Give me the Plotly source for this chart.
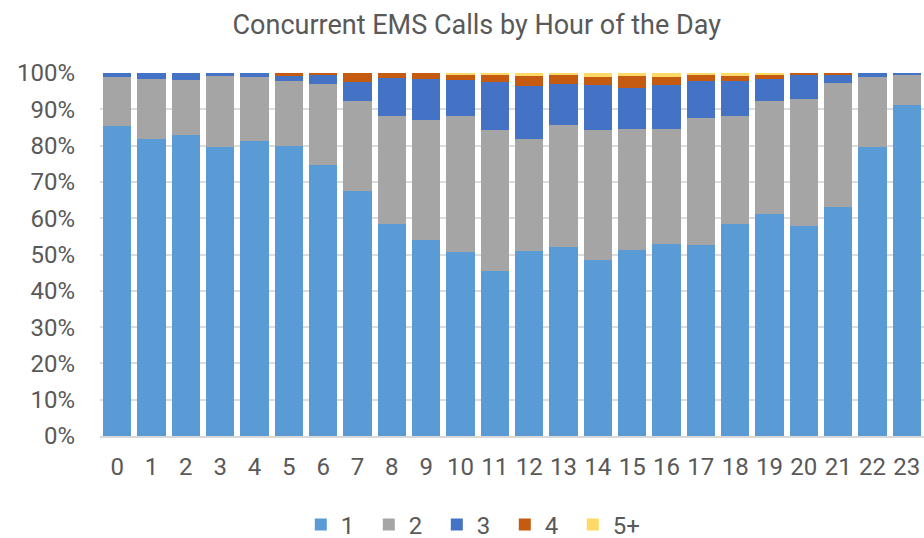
import plotly.graph_objects as go

hours = [str(h) for h in range(24)]
s1 = [85.4, 81.8, 82.9, 79.6, 81.3, 79.9, 74.7, 67.5, 58.4, 54.0, 50.7, 45.5,
      51.0, 52.1, 48.5, 51.2, 52.9, 52.6, 58.4, 61.2, 57.9, 63.1, 79.6, 91.2]
s2 = [13.5, 16.5, 15.2, 19.6, 17.6, 17.9, 22.3, 24.9, 29.8, 33.1, 37.5, 38.8,
      30.8, 33.6, 35.8, 33.4, 31.7, 35.0, 29.8, 31.1, 34.9, 34.1, 19.3, 8.2]
s3 = [1.1, 1.7, 1.9, 0.8, 1.1, 1.4, 2.5, 5.1, 10.4, 11.2, 9.9, 13.2,
      14.6, 11.3, 12.4, 11.3, 12.1, 10.2, 9.6, 6.0, 6.6, 2.4, 1.1, 0.6]
s4 = [0, 0, 0, 0, 0, 0.8, 0.5, 2.5, 1.4, 1.7, 1.3, 1.9,
      2.8, 2.4, 2.2, 3.3, 2.2, 1.6, 1.4, 1.1, 0.6, 0.4, 0, 0]
s5 = [0, 0, 0, 0, 0, 0, 0, 0, 0, 0, 0.6, 0.6,
      0.8, 0.6, 1.1, 0.8, 1.1, 0.6, 0.8, 0.6, 0, 0, 0, 0]

series = [("1", s1, "#5B9BD5"), ("2", s2, "#A5A5A5"), ("3", s3, "#4472C4"),
          ("4", s4, "#C55A11"), ("5+", s5, "#FFD966")]

fig = go.Figure()
for name, vals, col in series:
    fig.add_trace(go.Bar(x=hours, y=vals, name=name, marker_color=col,
                         marker_line_width=0))

txt = "#595959"
fig.update_layout(
    width=924, height=538,
    barmode="stack", barnorm="percent", bargap=0.18,
    paper_bgcolor="white", plot_bgcolor="white",
    margin=dict(l=100, r=0, t=73, b=102, autoexpand=False),
    font=dict(family="Roboto", color=txt, size=24),
    title=dict(text="Concurrent EMS Calls by Hour of the Day", x=0.516, xanchor="center",
               xref="container", yref="container",
               y=0.9535, yanchor="middle", font=dict(size=27, color=txt)),
    legend=dict(orientation="h", x=0.450, xanchor="center", y=-0.245, yanchor="middle",
                font=dict(size=24, color=txt), traceorder="normal",
                entrywidth=23, entrywidthmode="pixels"),
    showlegend=True,
)
fig.update_xaxes(type="category", showgrid=False, showline=True, linecolor="#D9D9D9",
                 linewidth=2, ticks="", tickfont=dict(size=24, color=txt),
                 ticklabelstandoff=8, automargin=False)
fig.update_yaxes(range=[0, 100], dtick=10, ticksuffix="%", showgrid=True,
                 gridcolor="#DDDDDD", gridwidth=2, zeroline=False, showline=False,
                 ticks="", tickfont=dict(size=24, color=txt), ticklabelstandoff=24,
                 automargin=False)

fig.write_html("out.html", config={"displayModeBar": False},
               post_script="document.body.style.margin='0';document.body.style.overflow='hidden';")
